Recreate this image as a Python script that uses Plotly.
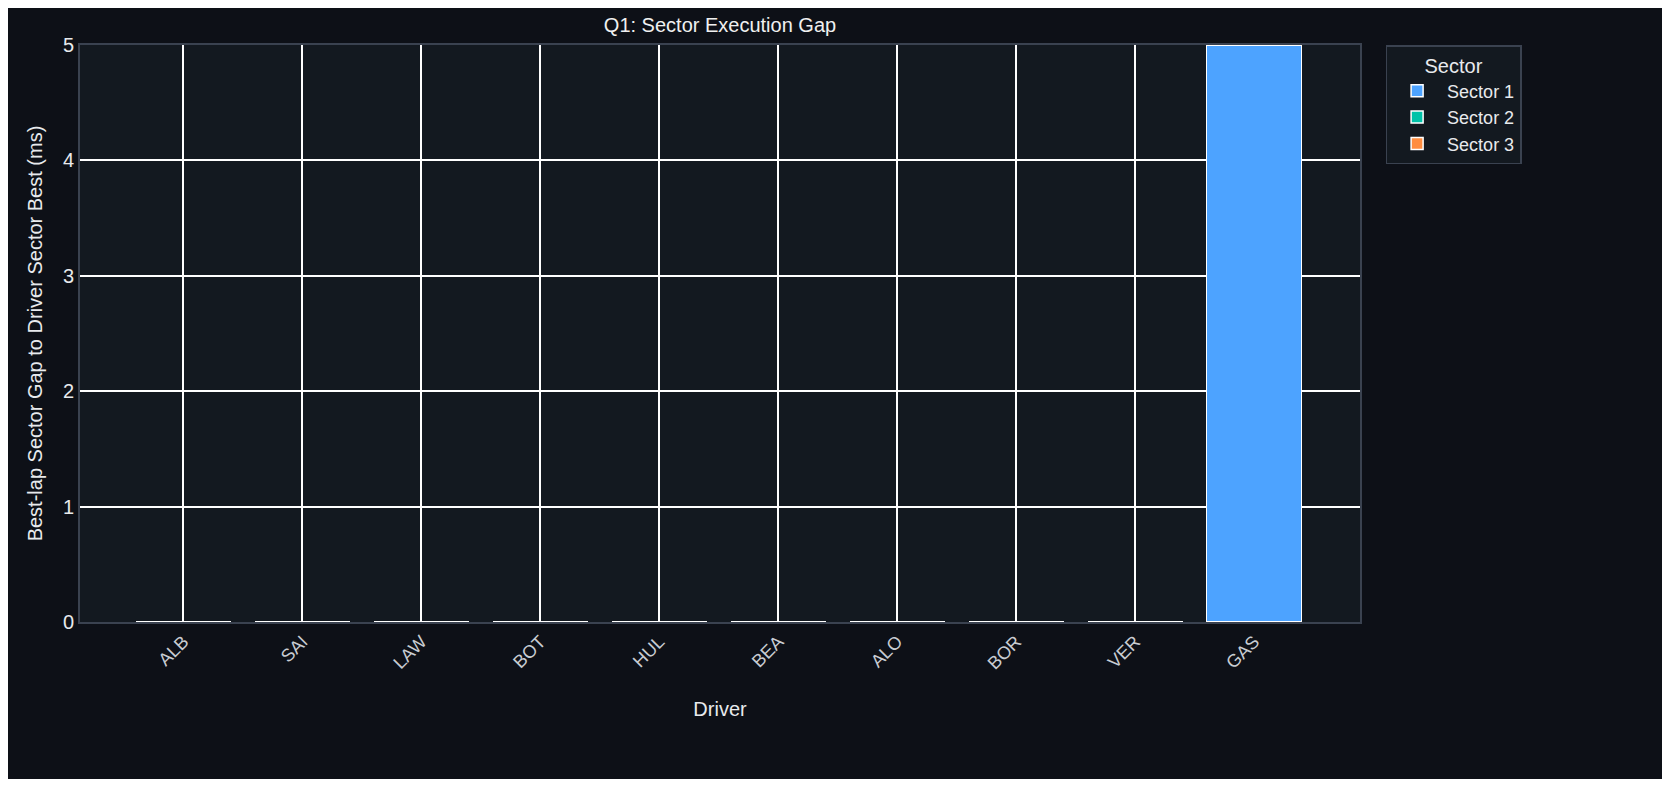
import plotly.graph_objects as go

drivers = ["ALB", "SAI", "LAW", "BOT", "HUL", "BEA", "ALO", "BOR", "VER", "GAS"]
sector1 = [0, 0, 0, 0, 0, 0, 0, 0, 0, 5.0]
sector2 = [0, 0, 0, 0, 0, 0, 0, 0, 0, 0]
sector3 = [0, 0, 0, 0, 0, 0, 0, 0, 0, 0]
series = [("Sector 1", sector1, "#4da3ff"), ("Sector 2", sector2, "#00c2a8"), ("Sector 3", sector3, "#ff8c3f")]

fig = go.Figure()
for name, vals, col in series:
    fig.add_trace(go.Bar(x=drivers, y=vals, name=name, width=0.8,
                         marker=dict(color=col, line=dict(color="white", width=1.5))))

font = "Liberation Sans, Arial, sans-serif"
fig.update_layout(
    barmode="stack", width=1654, height=771,
    paper_bgcolor="#0d1017", plot_bgcolor="#131920",
    font=dict(family=font, color="#e8eaed", size=18),
    title=dict(text="Q1: Sector Execution Gap", x=0.5, xref="paper", y=0.978, yanchor="middle", xanchor="center",
               font=dict(size=20, color="#f0f0f0")),
    margin=dict(l=72, r=302, t=37, b=157),
    legend=dict(title=dict(text="Sector", side="top center", font=dict(size=20)), x=1.02, xanchor="left", y=1.0, yanchor="top",
                traceorder="normal", itemwidth=50,
                bgcolor="#131920", bordercolor="#3a4250", borderwidth=1.5, font=dict(size=18)),
    bargap=0.2,
)
fig.update_xaxes(title=dict(text="Driver", font=dict(size=20), standoff=30), tickangle=-45, range=[-0.87, 9.89],
                 showgrid=True, gridcolor="white", gridwidth=1.5, showline=True, linecolor="#3a4250",
                 linewidth=2, mirror=True, ticks="", tickfont=dict(size=18, color="#c8ccd2"))
fig.update_yaxes(title=dict(text="Best-lap Sector Gap to Driver Sector Best (ms)", font=dict(size=20)), range=[0, 5],
                 dtick=1, showgrid=True, gridcolor="white", gridwidth=1.5, showline=True, linecolor="#3a4250",
                 linewidth=2, mirror=True, zeroline=False, ticks="", tickfont=dict(size=20))
fig.write_html("out.html")
